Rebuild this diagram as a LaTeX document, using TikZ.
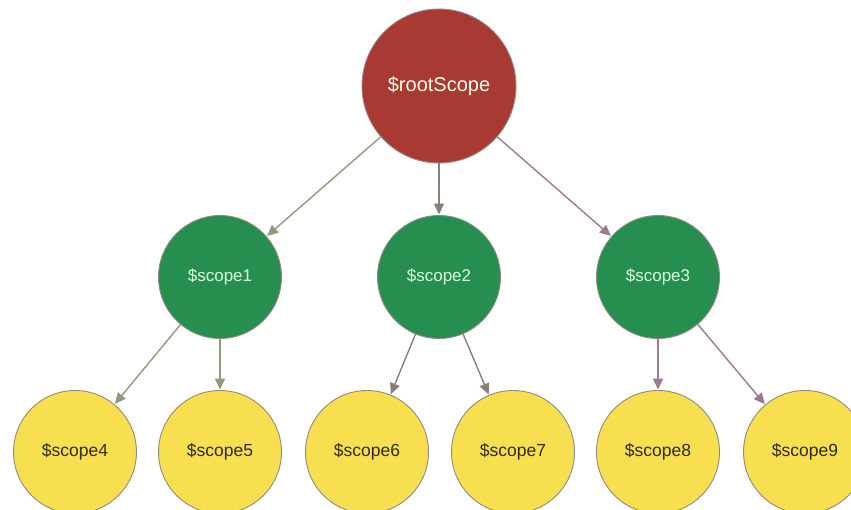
\documentclass[tikz,border=0pt]{standalone}
\usepackage{fontspec}
\setmainfont{Liberation Sans}
\usetikzlibrary{arrows.meta}
\definecolor{rootred}{HTML}{A83A33}
\definecolor{midgreen}{HTML}{268F50}
\definecolor{leafyellow}{HTML}{F8DF50}
\definecolor{ringgrey}{HTML}{8E8A82}
\definecolor{edgeolive}{HTML}{8F9A80}
\definecolor{edgebrown}{HTML}{8A7F78}
\definecolor{edgemauve}{HTML}{9A7B90}
\definecolor{leaftext}{HTML}{2E2C18}
\tikzset{
  scopenode/.style={circle, draw=ringgrey, line width=0.9pt, inner sep=0pt},
  rootnode/.style={scopenode, fill=rootred, minimum size=154pt, text=white!92!yellow, font=\fontsize{20}{24}\selectfont},
  midnode/.style={scopenode, fill=midgreen, minimum size=123pt, text=white!85!green, font=\fontsize{17}{20}\selectfont},
  leafnode/.style={scopenode, fill=leafyellow, minimum size=123pt, text=leaftext, font=\fontsize{17.5}{21}\selectfont},
  link/.style={line width=1.4pt, -{Triangle[length=11pt,width=10pt]}, shorten >=0.5pt},
}
\begin{document}
\begin{tikzpicture}[x=1pt,y=-1pt]
  \useasboundingbox (0,0) rectangle (851,510);
  \node[rootnode] (root) at (439,86) {\$rootScope};
  \node[midnode] (s1) at (220,277) {\$scope1};
  \node[midnode] (s2) at (439,277) {\$scope2};
  \node[midnode] (s3) at (658,277) {\$scope3};
  \node[leafnode] (s4) at (75,452) {\$scope4};
  \node[leafnode] (s5) at (220,452) {\$scope5};
  \node[leafnode] (s6) at (367,452) {\$scope6};
  \node[leafnode] (s7) at (513,452) {\$scope7};
  \node[leafnode] (s8) at (658,452) {\$scope8};
  \node[leafnode] (s9) at (805,452) {\$scope9};
  \draw[link, edgeolive] (root) -- (s1);
  \draw[link, edgebrown] (root) -- (s2);
  \draw[link, edgemauve] (root) -- (s3);
  \draw[link, edgeolive] (s1) -- (s4);
  \draw[link, edgeolive] (s1) -- (s5);
  \draw[link, edgebrown] (s2) -- (s6);
  \draw[link, edgebrown] (s2) -- (s7);
  \draw[link, edgemauve] (s3) -- (s8);
  \draw[link, edgemauve] (s3) -- (s9);
\end{tikzpicture}
\end{document}
